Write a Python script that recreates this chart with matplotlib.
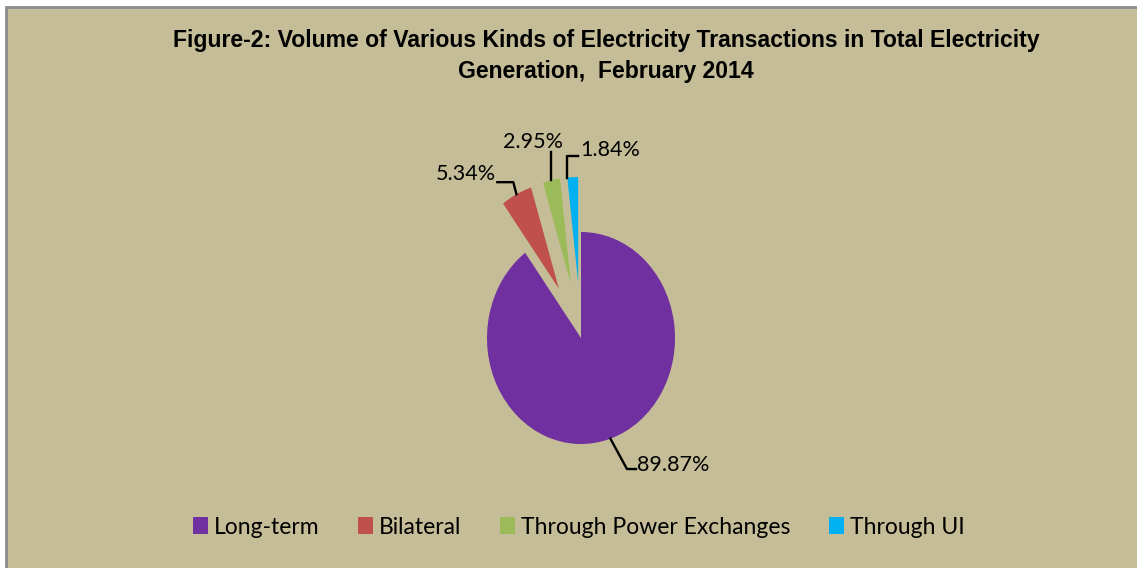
import numpy as np
import matplotlib
matplotlib.use('Agg')
import matplotlib.pyplot as plt
import matplotlib.patches as mpatches

# Datos
categorias = ['Long-term', 'Bilateral', 'Through Power Exchanges', 'Through UI']
valores = [89.87, 5.34, 2.95, 1.84]
etiquetas = ['89.87%', '5.34%', '2.95%', '1.84%']
colores = ['#7030A0', '#C0504D', '#9BBB59', '#00B0F0']
explosion = [0, 0.52, 0.52, 0.52]

fondo = '#C4BD97'
W, H = 1137, 568

fig = plt.figure(figsize=(W / 100, H / 100), dpi=100, facecolor='white')

# Marco del grafico (con borde gris arriba e izquierda)
marco = mpatches.Rectangle((6 / W, -0.05), 1.1, (H - 7) / H + 0.05,
                           transform=fig.transFigure, facecolor=fondo,
                           edgecolor='#8C8C8C', lw=2, zorder=-10)
fig.patches.append(marco)

# Ejes: 1 unidad = 94 px en x, 106 px en y, centro en (581, 338)
cx, cy, rx, ry = 581, 338, 94, 106
ax = fig.add_axes([(cx - 3 * rx) / W, (H - cy - 2 * ry) / H, 6 * rx / W, 4 * ry / H])
ax.set_zorder(5)
ax.patch.set_alpha(0)

wedges, _ = ax.pie(valores, colors=colores, explode=explosion, startangle=90,
                   counterclock=False, radius=1.0)
ax.set_aspect('auto')
ax.set_xlim(-3, 3)
ax.set_ylim(-2, 2)
ax.axis('off')


def punto(w, ang, r):
    c = np.array(w.center)
    a = np.deg2rad(ang)
    return c + r * np.array([np.cos(a), np.sin(a)])


fuente = ['Lato', 'DejaVu Sans']
fs = 15.5
lw = 1.7

# 89.87%
w = wedges[0]
p = punto(w, (w.theta1 + w.theta2) / 2, 1.0)
ax.plot([p[0], 0.489, 0.585], [p[1], -1.236, -1.236], color='black', lw=lw)
ax.text(0.596, -1.198, etiquetas[0], ha='left', va='center', fontsize=fs, family=fuente)

# 5.34%
w = wedges[1]
p = punto(w, (w.theta1 + w.theta2) / 2, 1.0)
ax.plot([p[0], -0.72, -0.89], [p[1], 1.47, 1.47], color='black', lw=lw)
ax.text(-0.905, 1.547, etiquetas[1], ha='right', va='center', fontsize=fs, family=fuente)

# 2.95%
w = wedges[2]
p = punto(w, (w.theta1 + w.theta2) / 2, 1.0)
ax.plot([p[0], p[0]], [p[1], 1.755], color='black', lw=lw)
ax.text(-0.51, 1.845, etiquetas[2], ha='center', va='center', fontsize=fs, family=fuente)

# 1.84%
w = wedges[3]
p = punto(w, max(w.theta1, w.theta2), 1.0)
ax.plot([p[0], p[0], -0.03], [p[1], 1.717, 1.717], color='black', lw=lw)
ax.text(-0.01, 1.77, etiquetas[3], ha='left', va='center', fontsize=fs, family=fuente)

# Titulo
fig.text(606 / W, (H - 56) / H,
         'Figure-2: Volume of Various Kinds of Electricity Transactions in Total Electricity\n'
         'Generation,  February 2014',
         ha='center', va='center', multialignment='center', fontsize=16.6,
         fontweight='bold', family=['Liberation Sans Narrow', 'Liberation Sans'],
         linespacing=1.42)

# Leyenda
parches = [mpatches.Patch(facecolor=c, edgecolor='none') for c in colores]
fig.legend(parches, categorias, loc='center', bbox_to_anchor=(579 / W, (H - 527) / H),
           ncol=4, frameon=False, handlelength=0.65, handleheight=0.75,
           handletextpad=0.25, columnspacing=1.7,
           prop={'family': fuente, 'size': 16.5})

plt.savefig('out.png', dpi=100, facecolor='white')
